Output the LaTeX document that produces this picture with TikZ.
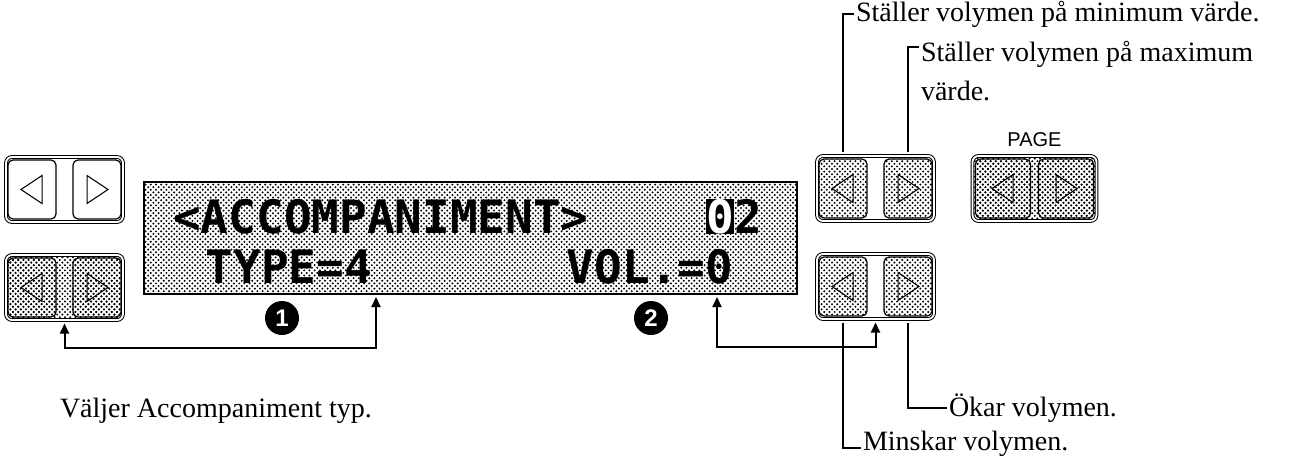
\documentclass[tikz,border=0pt]{standalone}
\usepackage{fontspec}
\setmainfont{Liberation Serif}
\newfontfamily\lcdfont{DejaVu Sans Mono}
\newfontfamily\panelfont{Liberation Sans}
\usetikzlibrary{arrows.meta, patterns, positioning}

\pgfdeclarepatternformonly{lcddots}{\pgfqpoint{-0.6pt}{-0.6pt}}{\pgfqpoint{1.9pt}{1.9pt}}{\pgfqpoint{2.6pt}{2.6pt}}{%
  \pgfpathcircle{\pgfqpoint{0pt}{0pt}}{0.55pt}%
  \pgfpathcircle{\pgfqpoint{1.3pt}{1.3pt}}{0.55pt}%
  \pgfusepath{fill}}

\begin{document}
\begin{tikzpicture}[
    x=0.5pt, y=-0.5pt,
    pairframe/.style={draw, double, double distance=0.9pt, line width=0.5pt,
      rounded corners=3pt, minimum width=58.5pt, minimum height=32.5pt, inner sep=0pt},
    halftone/.style={pattern=lcddots},
    keybox/.style={draw, line width=0.6pt, rounded corners=2.5pt,
      minimum width=24pt, minimum height=29.5pt, inner sep=0pt},
    pagekey/.style={keybox, minimum width=27.5pt},
    tri/.style={line width=0.5pt, line join=miter},
    lcd/.style={draw, line width=1.1pt, pattern=lcddots,
      minimum width=326.5pt, minimum height=56pt, inner sep=0pt},
    lcdtxt/.style={font=\lcdfont\bfseries\fontsize{23}{23}\selectfont, inner sep=0pt, anchor=base},
    note/.style={font=\fontsize{14}{19.5}\selectfont, inner sep=0.8pt, align=left},
    num/.style={circle, fill=black, text=white, inner sep=0pt, minimum size=17pt,
      font=\panelfont\bfseries\fontsize{12}{12}\selectfont},
    link/.style={line width=1pt, {Triangle[length=5pt,width=4.5pt]}-{Triangle[length=5pt,width=4.5pt]}},
    lead/.style={line width=0.9pt},
  ]
    \useasboundingbox (0,0) rectangle (1290,455);
    % left keys
    \node[pairframe] (L1) at (64.5,189.5) {};
    \node[keybox] (L1a) at (32,189.5) {};
    \node[keybox] (L1b) at (97,189.5) {};
    \node[pairframe, halftone] (L2) at (64.5,287.5) {};
    \node[keybox, halftone] (L2a) at (32,287.5) {};
    \node[keybox, halftone] (L2b) at (97,287.5) {};
    % display
    \node[lcd] (LCD) at (470.5,238) {};
    \node[lcdtxt] (line1) at (381,233) {<ACCOMPANIMENT>};
    \node[lcdtxt] (pageNo) at (734,233) {{\setlength{\fboxsep}{0pt}\colorbox{black}{\textcolor{white}{0}}}2};
    \node[lcdtxt] (typeTxt) at (289,283) {TYPE=4};
    \node[lcdtxt] (volTxt) at (650,283) {VOL.=0};
    % volume keys
    \node[pairframe] (V1) at (875.5,188.5) {};
    \node[keybox, halftone] (V1a) at (843,188.5) {};
    \node[keybox, halftone] (V1b) at (908,188.5) {};
    \node[pairframe] (V2) at (875.5,286.5) {};
    \node[keybox, halftone] (V2a) at (843,286.5) {};
    \node[keybox, halftone] (V2b) at (908,286.5) {};
    % page keys
    \node[pairframe, halftone, minimum width=62pt] (P) at (1034.5,188.5) {};
    \node[pagekey, halftone] (Pa) at (1003,188.5) {};
    \node[pagekey, halftone] (Pb) at (1066,188.5) {};
    \node[font=\panelfont\fontsize{10}{10}\selectfont, inner sep=0pt, above=4pt of P] (pageLbl) {PAGE};
    % arrows on keys
    \foreach \k in {L1a, L2a, V1a, V2a, Pa}
      \draw[tri] ([xshift=-5.5pt]\k.center) -- ++(21,-14) -- ++(0,28) -- cycle;
    \foreach \k in {L1b, L2b, V1b, V2b, Pb}
      \draw[tri] ([xshift=5.5pt]\k.center) -- ++(-21,-14) -- ++(0,28) -- cycle;
    % numbers
    \node[num] (n1) at (282,318) {1};
    \node[num] (n2) at (651,318) {2};
    % links
    \coordinate (typeArr) at (376,297);
    \coordinate (volArr) at (717,297);
    \coordinate (rowA) at (376,348);
    \coordinate (rowB) at (717,347);
    \draw[link] ([yshift=-1.5pt]L2.south) |- (rowA) -- (typeArr);
    \draw[link] (volArr) -- (rowB) -| ([yshift=-1.5pt]V2.south);
    % notes
    \node[note, anchor=base west] (typeNote) at (58,417) {Väljer Accompaniment typ.};
    \node[note, anchor=west] (minTxt) at (854,14) {Ställer volymen på minimum värde.};
    \node[note, anchor=north west] (maxTxt) at (919,39) {Ställer volymen på maximum\\värde.};
    \node[note, anchor=west] (okTxt) at (947,408) {Ökar volymen.};
    \node[note, anchor=base west] (minsTxt) at (861,450) {Minskar volymen.};
    \draw[lead] ([yshift=3pt]V1a.north) |- (minTxt.west);
    \draw[lead] ([yshift=3pt]V1b.north) |- ([yshift=-4pt]maxTxt.north west);
    \draw[lead] ([yshift=-3pt]V2b.south) |- (okTxt.west);
    \draw[lead] ([yshift=-3pt]V2a.south) |- ([yshift=1pt]minsTxt.base west);
\end{tikzpicture}
\end{document}
